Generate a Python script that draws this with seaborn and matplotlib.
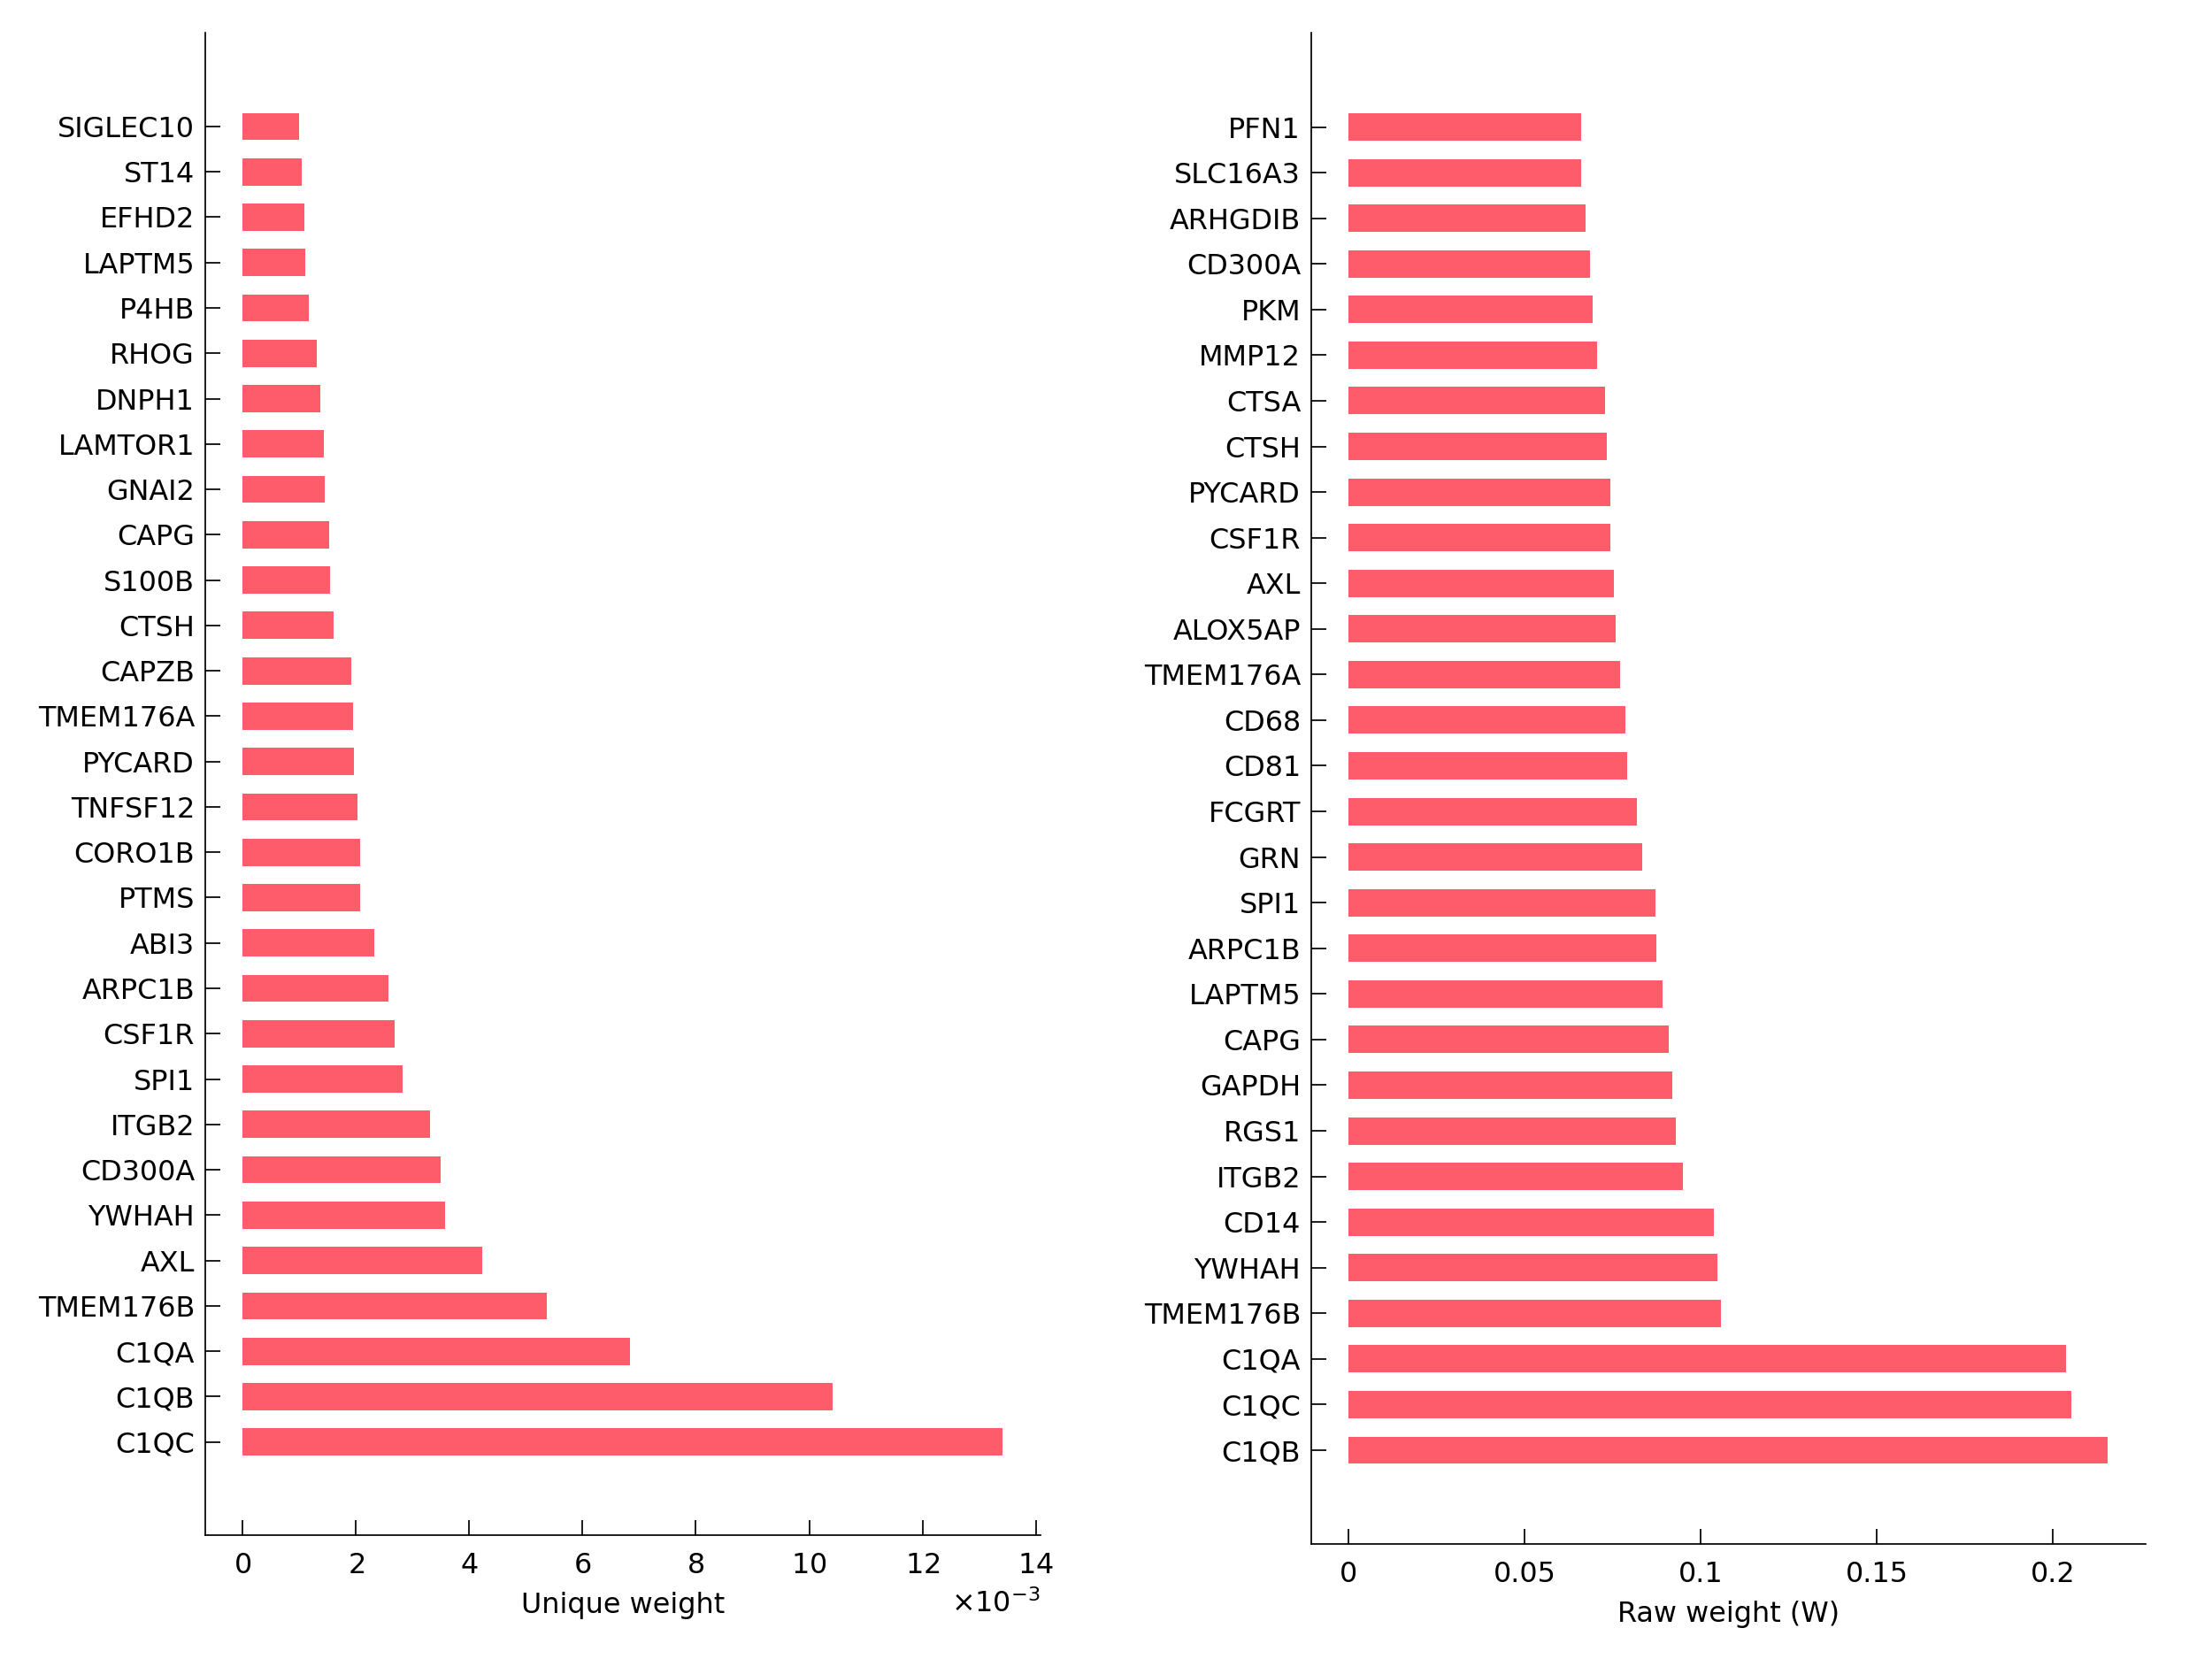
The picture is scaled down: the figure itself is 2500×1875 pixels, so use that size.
import numpy as np
import pandas as pd
import matplotlib
matplotlib.use('Agg')
import matplotlib.pyplot as plt
from matplotlib.ticker import FuncFormatter
import seaborn as sns

sns.set_theme(style='white')
plt.rcParams['font.family'] = ['DejaVu Sans']

# left panel: unique weights (top to bottom)
unique_genes = ['SIGLEC10', 'ST14', 'EFHD2', 'LAPTM5', 'P4HB', 'RHOG', 'DNPH1',
                'LAMTOR1', 'GNAI2', 'CAPG', 'S100B', 'CTSH', 'CAPZB', 'TMEM176A',
                'PYCARD', 'TNFSF12', 'CORO1B', 'PTMS', 'ABI3', 'ARPC1B', 'CSF1R',
                'SPI1', 'ITGB2', 'CD300A', 'YWHAH', 'AXL', 'TMEM176B', 'C1QA',
                'C1QB', 'C1QC']
unique_vals = [0.99, 1.05, 1.09, 1.10, 1.16, 1.31, 1.37, 1.44, 1.45, 1.52,
               1.54, 1.61, 1.91, 1.95, 1.96, 2.02, 2.07, 2.08, 2.32, 2.58,
               2.68, 2.83, 3.31, 3.50, 3.57, 4.23, 5.37, 6.83, 10.42, 13.41]
unique_vals = [v * 1e-3 for v in unique_vals]

# right panel: raw weights (top to bottom)
raw_genes = ['PFN1', 'SLC16A3', 'ARHGDIB', 'CD300A', 'PKM', 'MMP12', 'CTSA',
             'CTSH', 'PYCARD', 'CSF1R', 'AXL', 'ALOX5AP', 'TMEM176A', 'CD68',
             'CD81', 'FCGRT', 'GRN', 'SPI1', 'ARPC1B', 'LAPTM5', 'CAPG', 'GAPDH',
             'RGS1', 'ITGB2', 'CD14', 'YWHAH', 'TMEM176B', 'C1QA', 'C1QC', 'C1QB']
raw_vals = [0.0661, 0.0661, 0.0673, 0.0685, 0.0693, 0.0705, 0.0729, 0.0733,
            0.0742, 0.0744, 0.0754, 0.0758, 0.0770, 0.0786, 0.0790, 0.0818,
            0.0834, 0.0870, 0.0874, 0.0892, 0.0910, 0.0918, 0.0930, 0.0948,
            0.1038, 0.1048, 0.1056, 0.2038, 0.2052, 0.2156]

bar_color = '#FF5C6B'
fs = 9.2

fig = plt.figure(figsize=(10, 7.5), dpi=250)
ax1 = fig.add_axes([0.0929, 0.0745, 0.3774, 0.9056])
ax2 = fig.add_axes([0.5929, 0.0692, 0.3771, 0.9109])

df1 = pd.DataFrame({'gene': unique_genes, 'weight': unique_vals})
df2 = pd.DataFrame({'gene': raw_genes, 'weight': raw_vals})

sns.barplot(data=df1, x='weight', y='gene', color=bar_color, saturation=1,
            width=0.6, linewidth=0, ax=ax1)
sns.barplot(data=df2, x='weight', y='gene', color=bar_color, saturation=1,
            width=0.6, linewidth=0, ax=ax2)

for ax, n in [(ax1, len(unique_genes)), (ax2, len(raw_genes))]:
    ax.set_ylim(n - 1 + 2.06, -2.06)
    ax.set_ylabel('')
    for s in ['top', 'right']:
        ax.spines[s].set_visible(False)
    for s in ['left', 'bottom']:
        ax.spines[s].set_color('black')
        ax.spines[s].set_linewidth(0.5)
    ax.tick_params(axis='both', direction='in', length=4.9, width=0.5,
                   color='black', labelsize=fs, labelcolor='black',
                   bottom=True, left=True)
    ax.tick_params(axis='y', pad=3.5)
    ax.tick_params(axis='x', pad=5.5)

ax1.set_xlim(-0.000656, 0.01408)
ax1.set_xticks(np.arange(0, 0.0141, 0.002))
ax1.ticklabel_format(axis='x', style='sci', scilimits=(-3, -3), useMathText=True)
ax1.xaxis.get_offset_text().set_fontsize(fs)
ax1.set_xlabel('Unique weight', fontsize=fs, color='black', labelpad=4)

ax2.set_xlim(-0.01055, 0.2263)
ax2.set_xticks([0, 0.05, 0.1, 0.15, 0.2])
ax2.xaxis.set_major_formatter(FuncFormatter(lambda v, p: f'{v:g}'))
ax2.set_xlabel('Raw weight (W)', fontsize=fs, color='black', labelpad=4)

fig.savefig('out.png', dpi=250, facecolor='white')
